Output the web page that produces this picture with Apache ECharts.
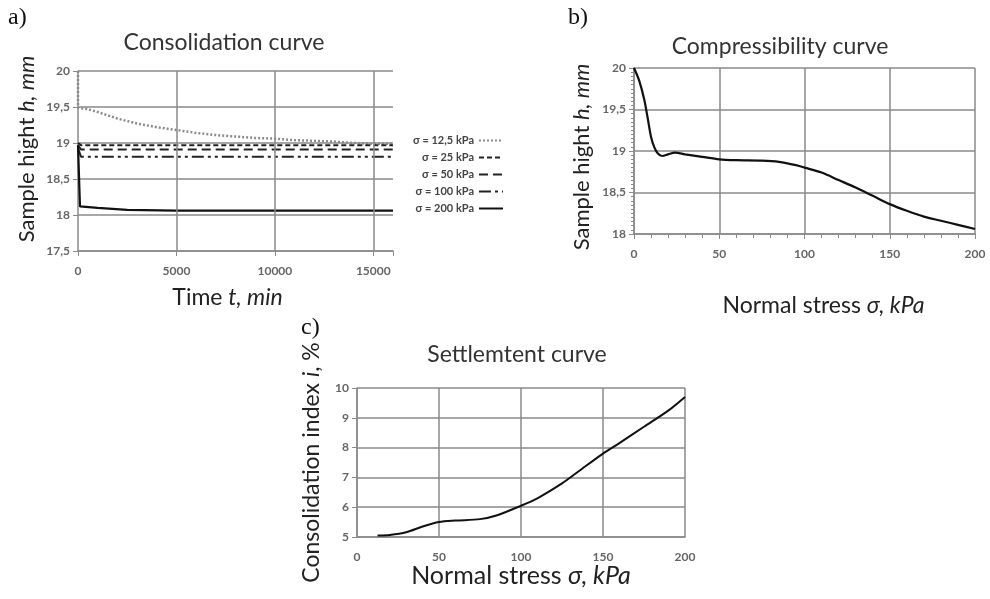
<!DOCTYPE html>
<html><head><meta charset="utf-8">
<script src="https://cdn.jsdelivr.net/npm/echarts@6/dist/echarts.min.js"></script>
<style>html,body{margin:0;padding:0;background:#fff}#c{width:990px;height:599px}</style>
</head><body><div id="c"></div>
<script>
// ---- Chart a) Consolidation curve ----
const tA125 = [0, 0, 500, 1000, 2000, 3000, 4000, 5000, 6000, 7000, 8000, 9000, 10000, 11000, 12000, 13000, 14000, 15000, 16000];
const hA125 = [20, 19.49, 19.47, 19.43, 19.34, 19.27, 19.22, 19.18, 19.14, 19.11, 19.09, 19.07, 19.06, 19.04, 19.03, 19.02, 19.0, 18.99, 18.99];
const tA25 = [0, 150, 16000];
const hA25 = [19.0, 18.97, 18.97];
const tA50 = [0, 150, 16000];
const hA50 = [18.97, 18.91, 18.91];
const tA100 = [0, 150, 16000];
const hA100 = [18.93, 18.81, 18.81];
const tA200 = [0, 100, 1000, 2500, 5000, 8000, 16000];
const hA200 = [18.97, 18.12, 18.1, 18.07, 18.06, 18.06, 18.06];
const legendA = ['σ = 12,5 kPa', 'σ = 25 kPa', 'σ = 50 kPa', 'σ = 100 kPa', 'σ = 200 kPa'];
const gridTimesA = [5000, 10000, 15000];

// ---- Chart b) Compressibility curve ----
const stressB = [0, 3, 6, 8, 10, 12, 14, 16.5, 20, 24, 30, 40, 50, 60, 75, 85, 95, 100, 110, 120, 130, 140, 150, 160, 170, 180, 190, 200];
const heightB = [20, 19.85, 19.62, 19.4, 19.17, 19.04, 18.97, 18.94, 18.96, 18.98, 18.96, 18.93, 18.9, 18.89, 18.885, 18.87, 18.83, 18.8, 18.74, 18.65, 18.56, 18.46, 18.36, 18.28, 18.21, 18.16, 18.11, 18.06];

// ---- Chart c) Settlement curve ----
const stressC = [12.5, 20, 30, 40, 50, 60, 75, 85, 100, 110, 125, 135, 150, 160, 175, 190, 200];
const indexC = [5.05, 5.07, 5.16, 5.35, 5.5, 5.55, 5.6, 5.72, 6.05, 6.3, 6.8, 7.2, 7.8, 8.15, 8.7, 9.25, 9.7];

const FF = 'Lato, "Open Sans", sans-serif';
const pair = (xs, ys) => xs.map((x, i) => [x, ys[i]]);
const comma = v => String(v).replace('.', ',');
const GRID = '#8a8a8a';
const tickLbl = {color: '#666', fontSize: 12, fontFamily: FF, fontWeight: 'bold'};
const gridLine = {show: true, lineStyle: {color: GRID, width: 1.5}};
const axLine = {show: true, lineStyle: {color: GRID, width: 1.5}};
const nameRich = (fs, pad) => ({padding: pad || 0, rich: {n: {fontSize: fs, fontFamily: FF, color: '#222'}, i: {fontSize: fs, fontFamily: FF, color: '#222', fontStyle: 'italic'}}});

const chart = echarts.init(document.getElementById('c'), null, {renderer: 'canvas'});
chart.setOption({
  animation: false,
  backgroundColor: '#fff',
  grid: [
    {left: 78, top: 71, width: 315, height: 180},
    {left: 634, top: 68, width: 341, height: 166},
    {left: 357, top: 388, width: 328, height: 149}
  ],
  legend: {
    data: legendA, orient: 'vertical', left: 408, top: 130, itemGap: 6, align: 'right',
    itemWidth: 24, itemHeight: 8,
    itemStyle: {color: 'transparent', borderColor: 'transparent', borderWidth: 0},
    textStyle: {fontSize: 11, fontFamily: FF, color: '#444', fontWeight: 'bold'}
  },
  xAxis: [
    {gridIndex: 0, type: 'value', min: 0, max: 16000, interval: 5000,
      axisLine: axLine, axisTick: {show: true, lineStyle: {color: GRID}}, splitLine: {show: false},
      axisLabel: Object.assign({}, tickLbl, {formatter: v => v === 16000 ? '' : String(v), margin: 14}),
      name: '{n|Time }{i|t, min}', nameLocation: 'middle', nameGap: 35, nameTextStyle: nameRich(23, [0, 16, 0, 0])},
    {gridIndex: 1, type: 'value', min: 0, max: 200, interval: 50,
      axisLine: axLine, axisTick: {show: true, lineStyle: {color: GRID}},
      minorTick: {show: true, splitNumber: 5, length: 4, lineStyle: {color: GRID}},
      splitLine: gridLine, axisLabel: Object.assign({}, tickLbl, {margin: 14}),
      name: '{n|Normal stress }{i|σ, kPa}', nameLocation: 'middle', nameGap: 60, nameTextStyle: nameRich(23, [0, 0, 0, 38])},
    {gridIndex: 2, type: 'value', min: 0, max: 200, interval: 50,
      axisLine: axLine, axisTick: {show: false}, splitLine: gridLine,
      axisLabel: Object.assign({}, tickLbl, {margin: 14}),
      name: '{n|Normal stress }{i|σ, kPa}', nameLocation: 'middle', nameGap: 26, nameTextStyle: nameRich(25)}
  ],
  yAxis: [
    {gridIndex: 0, type: 'value', min: 17.5, max: 20, interval: 0.5,
      axisLine: axLine, axisTick: {show: true, lineStyle: {color: GRID}}, splitLine: gridLine,
      axisLabel: Object.assign({}, tickLbl, {formatter: comma}),
      name: '{n|Sample hight }{i|h, mm}', nameLocation: 'middle', nameGap: 40, nameTextStyle: nameRich(22, [0, 0, 0, 24])},
    {gridIndex: 1, type: 'value', min: 18, max: 20, interval: 0.5,
      axisLine: axLine, axisTick: {show: true, lineStyle: {color: GRID}},
      minorTick: {show: true, splitNumber: 10, length: 3, lineStyle: {color: GRID}},
      splitLine: gridLine, axisLabel: Object.assign({}, tickLbl, {formatter: comma}),
      name: '{n|Sample hight }{i|h, mm}', nameLocation: 'middle', nameGap: 41, nameTextStyle: nameRich(22, [0, 12, 0, 0])},
    {gridIndex: 2, type: 'value', min: 5, max: 10, interval: 1,
      axisLine: axLine, axisTick: {show: true, lineStyle: {color: GRID}}, splitLine: gridLine,
      axisLabel: tickLbl,
      name: '{n|Consolidation index }{i|i}{n|, %}', nameLocation: 'middle', nameGap: 34, nameTextStyle: nameRich(23)}
  ],
  series: [
    {name: legendA[0], type: 'line', xAxisIndex: 0, yAxisIndex: 0, data: pair(tA125, hA125), symbol: 'none', smooth: false,
      lineStyle: {color: '#8c8c8c', width: 2.5, type: [2, 2]}, itemStyle: {color: '#8c8c8c'}, z: 3,
      markLine: {silent: true, symbol: 'none', label: {show: false}, animation: false,
        lineStyle: {color: GRID, width: 1.5, type: 'solid'},
        data: gridTimesA.map(t => ({xAxis: t}))}},
    {name: legendA[1], type: 'line', xAxisIndex: 0, yAxisIndex: 0, data: pair(tA25, hA25), symbol: 'none', z: 3,
      lineStyle: {color: '#222', width: 2, type: [5, 3]}, itemStyle: {color: '#222'}},
    {name: legendA[2], type: 'line', xAxisIndex: 0, yAxisIndex: 0, data: pair(tA50, hA50), symbol: 'none', z: 3,
      lineStyle: {color: '#222', width: 2, type: [9, 5]}, itemStyle: {color: '#222'}},
    {name: legendA[3], type: 'line', xAxisIndex: 0, yAxisIndex: 0, data: pair(tA100, hA100), symbol: 'none', z: 3,
      lineStyle: {color: '#222', width: 2, type: [12, 4, 3, 4, 3, 4]}, itemStyle: {color: '#222'}},
    {name: legendA[4], type: 'line', xAxisIndex: 0, yAxisIndex: 0, data: pair(tA200, hA200), symbol: 'none', z: 3,
      lineStyle: {color: '#111', width: 2.2}, itemStyle: {color: '#111'}},
    {name: 'compress', type: 'line', xAxisIndex: 1, yAxisIndex: 1, data: pair(stressB, heightB), symbol: 'none', smooth: 0.3,
      lineStyle: {color: '#111', width: 2.2}},
    {name: 'settle', type: 'line', xAxisIndex: 2, yAxisIndex: 2, data: pair(stressC, indexC), symbol: 'none', smooth: 0.3,
      lineStyle: {color: '#111', width: 2}}
  ],
  graphic: [
    {type: 'text', left: 8, top: 6, style: {text: 'a)', font: '24px "Liberation Serif", serif', fill: '#111'}},
    {type: 'text', left: 568, top: 6, style: {text: 'b)', font: '24px "Liberation Serif", serif', fill: '#111'}},
    {type: 'text', left: 301, top: 316, style: {text: 'c)', font: '24px "Liberation Serif", serif', fill: '#111'}},
    {type: 'text', x: 224, y: 43, style: {text: 'Consolidation curve', font: '23px ' + FF, fill: '#333', align: 'center', verticalAlign: 'middle'}},
    {type: 'text', x: 780, y: 47, style: {text: 'Compressibility curve', font: '23px ' + FF, fill: '#333', align: 'center', verticalAlign: 'middle'}},
    {type: 'text', x: 517, y: 355, style: {text: 'Settlemtent curve', font: '23px ' + FF, fill: '#333', align: 'center', verticalAlign: 'middle'}}
  ]
});
</script></body></html>
